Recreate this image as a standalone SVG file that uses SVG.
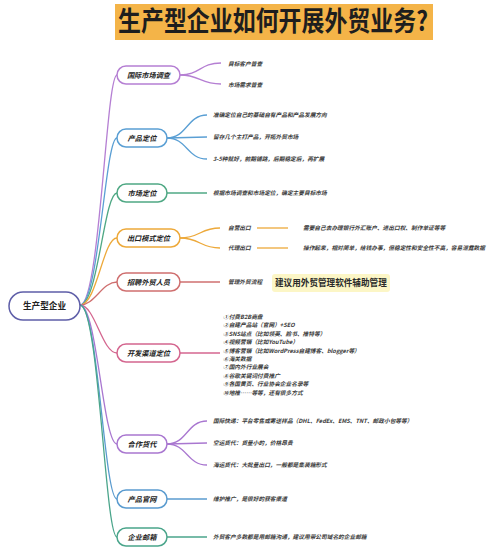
<svg xmlns="http://www.w3.org/2000/svg" width="500" height="554" viewBox="0 0 500 554">
<style>
.bg{fill:#ffffff}
.title{font-family:"Noto Sans CJK SC","Liberation Sans",sans-serif;font-weight:700;font-size:27px;fill:#1e1e1e}
.node{fill:#ffffff;stroke-width:1.5}
.nt{font-family:"Noto Sans CJK SC","Liberation Sans",sans-serif;font-weight:700;font-style:italic;font-size:7.2px;fill:#222;text-anchor:middle}
.rt{font-family:"Noto Sans CJK SC","Liberation Sans",sans-serif;font-weight:700;font-size:8.6px;fill:#222;text-anchor:middle}
.ct{font-family:"Noto Sans CJK SC","Liberation Sans",sans-serif;font-weight:700;font-style:italic;font-size:5.7px;fill:#3a3a3a}
.hl{font-family:"Noto Sans CJK SC","Liberation Sans",sans-serif;font-weight:700;font-size:8.6px;fill:#2a2a2a}
.ln{fill:none;stroke-width:1.3}
.c1{stroke:#b57fd3}.c2{stroke:#5a9fd4}.c3{stroke:#4fa884}.c4{stroke:#eda93a}.c5{stroke:#cf6f6f}
.c6{stroke:#d4668f}.c7{stroke:#a977d0}.c8{stroke:#5a9bcf}.c9{stroke:#4aa58b}.c0{stroke:#5e5ea8}
</style>
<rect class="bg" x="0" y="0" width="500" height="554"/>
<g id="title">
<rect x="115" y="4" width="318" height="36" fill="#f4b448"/>
<text class="title" x="118" y="31" textLength="310" lengthAdjust="spacingAndGlyphs">生产型企业如何开展外贸业务?</text>
</g>
<g id="connectors">
<path class="ln c1" d="M80,305 C100,305 106,75 117,75"/>
<path class="ln c2" d="M80,305 C99,305 105,138 117,138"/>
<path class="ln c3" d="M80,305 C98,305 104,193 117,193"/>
<path class="ln c4" d="M80,305 C97,305 103,238 117,238"/>
<path class="ln c5" d="M80,305 C95,305 102,282 117,282"/>
<path class="ln c6" d="M80,305 C95,305 102,353 117,353"/>
<path class="ln c7" d="M80,305 C97,305 103,444 117,444"/>
<path class="ln c8" d="M80,305 C98,305 104,499 117,499"/>
<path class="ln c9" d="M80,305 C99,305 105,537 117,537"/>
<path class="ln c1" d="M180,75 C200,75 200,63 221,63"/>
<path class="ln c1" d="M180,75 C200,75 200,84 221,84"/>
<path class="ln c2" d="M167,138 C187,138 187,115 207,115"/>
<path class="ln c2" d="M167,138 L207,137"/>
<path class="ln c2" d="M167,138 C187,138 187,159 207,159"/>
<path class="ln c3" d="M167,193 L207,193"/>
<path class="ln c4" d="M180,238 C200,238 200,228 220,228"/>
<path class="ln c4" d="M180,238 C200,238 200,248 220,248"/>
<path class="ln c4" d="M257,228 L288,228"/>
<path class="ln c4" d="M257,248 L288,248"/>
<path class="ln c5" d="M180,282 L220,282"/>
<path class="ln c6" d="M180,353 L220,353"/>
<path class="ln c7" d="M167,444 C187,444 187,421 207,421"/>
<path class="ln c7" d="M167,444 L207,443"/>
<path class="ln c7" d="M167,444 C187,444 187,465 207,465"/>
<path class="ln c8" d="M167,499 L207,499"/>
<path class="ln c9" d="M167,537 L207,537"/>
</g>
<g id="root">
<rect class="node c0" x="9" y="292" width="71" height="28" rx="14"/>
<text class="rt" x="44.5" y="309">生产型企业</text>
</g>
<g id="n1">
<rect class="node c1" x="117" y="66" width="63" height="18" rx="9"/>
<text class="nt" x="148.5" y="77.6">国际市场调查</text>
<text class="ct" x="228" y="66">目标客户普查</text>
<text class="ct" x="228" y="87">市场需求普查</text>
</g>
<g id="n2">
<rect class="node c2" x="117" y="129" width="50" height="18" rx="9"/>
<text class="nt" x="142" y="140.6">产品定位</text>
<text class="ct" x="213" y="117">准确定位自己的基础自有产品和产品发展方向</text>
<text class="ct" x="213" y="139">留存几个主打产品，开拓外贸市场</text>
<text class="ct" x="213" y="161">3-5种就好，前期铺路，后期稳定后，再扩展</text>
</g>
<g id="n3">
<rect class="node c3" x="117" y="184" width="50" height="18" rx="9"/>
<text class="nt" x="142" y="195.6">市场定位</text>
<text class="ct" x="213" y="195">根据市场调查和市场定位，确定主要目标市场</text>
</g>
<g id="n4">
<rect class="node c4" x="117" y="229" width="63" height="18" rx="9"/>
<text class="nt" x="148.5" y="240.6">出口模式定位</text>
<text class="ct" x="228" y="230">自营出口</text>
<text class="ct" x="228" y="250">代理出口</text>
<text class="ct" x="303" y="230">需要自己去办理银行外汇账户、进出口权、制作单证等等</text>
<text class="ct" x="303" y="250">操作起来，相对简单，给钱办事，但稳定性和安全性不高，容易泄露数据</text>
</g>
<g id="n5">
<rect class="node c5" x="117" y="273" width="63" height="18" rx="9"/>
<text class="nt" x="148.5" y="284.6">招聘外贸人员</text>
<text class="ct" x="228" y="284">管理外贸流程</text>
<rect x="272" y="274" width="118" height="18" rx="3" fill="#fcf6c6"/>
<text class="hl" x="275" y="286">建议用外贸管理软件辅助管理</text>
</g>
<g id="n6">
<rect class="node c6" x="117" y="344" width="63" height="18" rx="9"/>
<text class="nt" x="148.5" y="355.6">开发渠道定位</text>
<text class="ct" x="223" y="319">①付费B2B商盘</text>
<text class="ct" x="223" y="327.4">②自建产品站（官网）+SEO</text>
<text class="ct" x="223" y="335.8">③SNS站点（比如领英、脸书、推特等）</text>
<text class="ct" x="223" y="344.2">④视频营销（比如YouTube）</text>
<text class="ct" x="223" y="352.6">⑤博客营销（比如WordPress自建博客、blogger等）</text>
<text class="ct" x="223" y="361">⑥海关数据</text>
<text class="ct" x="223" y="369.4">⑦国内外行业展会</text>
<text class="ct" x="223" y="377.8">⑧谷歌关键词付费推广</text>
<text class="ct" x="223" y="386.2">⑨各国黄页、行业协会企业名录等</text>
<text class="ct" x="223" y="394.6">⑩地推……等等，还有很多方式</text>
</g>
<g id="n7">
<rect class="node c7" x="117" y="435" width="50" height="18" rx="9"/>
<text class="nt" x="142" y="446.6">合作货代</text>
<text class="ct" x="213" y="423">国际快递：平台零售或寄送样品（DHL、FedEx、EMS、TNT、邮政小包等等）</text>
<text class="ct" x="213" y="445">空运货代：货量小的，价格昂贵</text>
<text class="ct" x="213" y="467">海运货代：大批量出口，一般都是集装箱形式</text>
</g>
<g id="n8">
<rect class="node c8" x="117" y="490" width="50" height="18" rx="9"/>
<text class="nt" x="142" y="501.6">产品官网</text>
<text class="ct" x="213" y="501">维护推广，是很好的获客渠道</text>
</g>
<g id="n9">
<rect class="node c9" x="117" y="528" width="50" height="18" rx="9"/>
<text class="nt" x="142" y="539.6">企业邮箱</text>
<text class="ct" x="213" y="539">外贸客户多数都是用邮箱沟通，建议用带公司域名的企业邮箱</text>
</g>
</svg>
